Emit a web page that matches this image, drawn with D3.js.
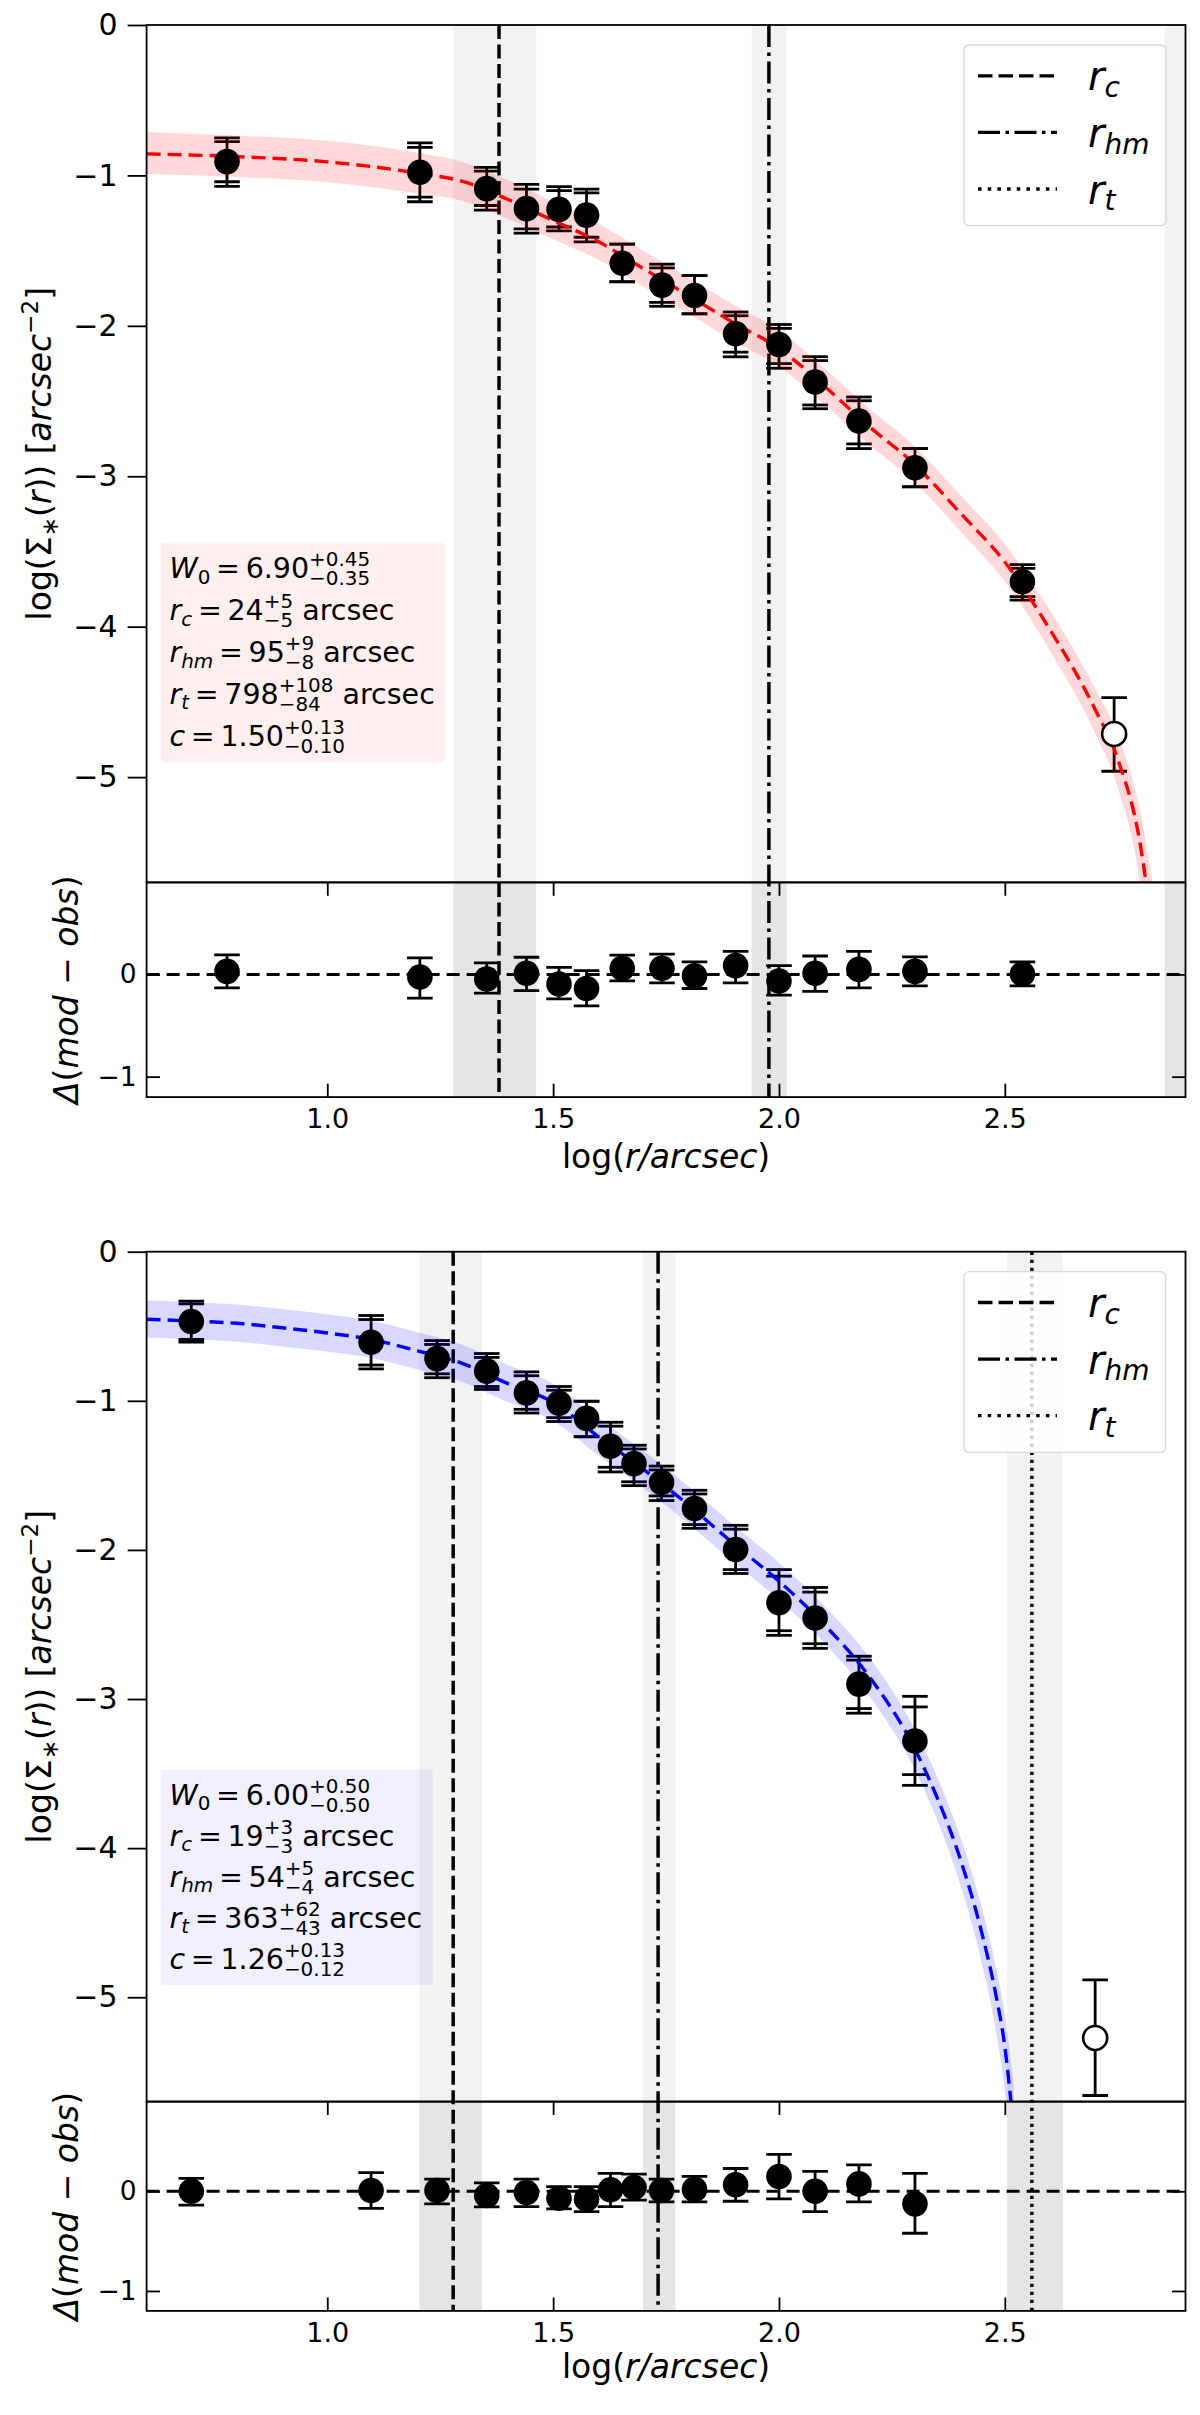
<!DOCTYPE html>
<html>
<head>
<meta charset="utf-8">
<script src="https://cdn.jsdelivr.net/npm/d3@7/dist/d3.min.js"></script>
<style>
  body { margin: 0; background: #fff; }
  svg text { font-family: "DejaVu Sans", sans-serif; white-space: pre; }
</style>
</head>
<body>
<svg id="chart" width="1200" height="2415"></svg>
<script>
// ---------- shared axes
const xDomain = [0.6, 2.9];
const xTicks = [1.0, 1.5, 2.0, 2.5];
const yMainDomain = [-5.7, 0];
const yMainTicks = [0, -1, -2, -3, -4, -5];
const yResDomain = [-1.2, 0.9];
const yResTicks = [0, -1];
const legendLabels = [["r", "c"], ["r", "hm"], ["r", "t"]];

// ---------- top cluster (red)
const obsXA = [0.778, 1.205, 1.353, 1.441, 1.513, 1.574, 1.653, 1.741, 1.813, 1.904, 2.000, 2.080, 2.177, 2.301, 2.539];
const obsYA = [-0.908, -0.979, -1.088, -1.221, -1.226, -1.264, -1.584, -1.729, -1.798, -2.053, -2.124, -2.373, -2.633, -2.943, -3.701];
const obsHiOutA = [-0.750, -0.783, -0.946, -1.060, -1.075, -1.091, -1.457, -1.590, -1.666, -1.908, -1.991, -2.205, -2.473, -2.816, -3.587];
const obsHiInA = [-0.775, -0.813, -0.971, -1.091, -1.101, -1.116, -1.457, -1.615, -1.666, -1.933, -2.017, -2.231, -2.498, -2.816, -3.612];
const obsLoInA = [-1.042, -1.144, -1.200, -1.355, -1.343, -1.411, -1.707, -1.844, -1.920, -2.175, -2.251, -2.526, -2.785, -3.070, -3.800];
const obsLoOutA = [-1.073, -1.175, -1.231, -1.383, -1.368, -1.442, -1.707, -1.870, -1.920, -2.206, -2.282, -2.551, -2.816, -3.070, -3.823];
const openA = [2.742, -4.713, -4.472, -4.961]; // x, y, hi, lo
const resYA = [0.030, -0.026, -0.045, 0.012, -0.094, -0.138, 0.060, 0.060, -0.014, 0.086, -0.064, 0.012, 0.049, 0.030, 0.004];
const resHiA = [0.191, 0.161, 0.113, 0.168, 0.068, 0.038, 0.188, 0.199, 0.123, 0.225, 0.086, 0.180, 0.225, 0.172, 0.123];
const resLoA = [-0.131, -0.232, -0.183, -0.158, -0.240, -0.307, -0.064, -0.082, -0.138, -0.082, -0.202, -0.165, -0.131, -0.113, -0.113];
const modelXA = [0.6, 0.8, 1.0, 1.2, 1.3, 1.4, 1.5, 1.6, 1.7, 1.8, 1.9, 2.0, 2.1, 2.2, 2.3, 2.4, 2.5, 2.6, 2.7, 2.75, 2.8, 2.83];
const modelYA = [-0.857, -0.875, -0.91, -0.985, -1.04, -1.16, -1.30, -1.44, -1.62, -1.80, -1.98, -2.15, -2.40, -2.67, -2.92, -3.24, -3.57, -4.02, -4.55, -4.88, -5.45, -6.1];
const modelHiA = [-0.711, -0.735, -0.77, -0.85, -0.91, -1.03, -1.175, -1.32, -1.50, -1.68, -1.86, -2.03, -2.28, -2.55, -2.80, -3.12, -3.45, -3.89, -4.41, -4.72, -5.23, -5.75];
const modelLoA = [-0.991, -1.01, -1.045, -1.12, -1.17, -1.29, -1.425, -1.56, -1.74, -1.92, -2.10, -2.27, -2.52, -2.79, -3.04, -3.36, -3.70, -4.16, -4.71, -5.07, -5.73, -6.6];
const rcA = [24, 19, 29];      // value, lower, upper (arcsec)
const rhmA = [95, 87, 104];
const rtA = [798, 714, 906];
const paramsA = [
  { sym: "W", sub: "0", subIt: false, val: "6.90", up: "+0.45", dn: "\u22120.35", unit: "" },
  { sym: "r", sub: "c", subIt: true, val: "24", up: "+5", dn: "\u22125", unit: "arcsec" },
  { sym: "r", sub: "hm", subIt: true, val: "95", up: "+9", dn: "\u22128", unit: "arcsec" },
  { sym: "r", sub: "t", subIt: true, val: "798", up: "+108", dn: "\u221284", unit: "arcsec" },
  { sym: "c", sub: "", subIt: true, val: "1.50", up: "+0.13", dn: "\u22120.10", unit: "" }
];

// ---------- bottom cluster (blue)
const obsXB = [0.699, 1.097, 1.243, 1.353, 1.441, 1.513, 1.574, 1.627, 1.679, 1.740, 1.813, 1.904, 2.000, 2.080, 2.177, 2.301];
const obsYB = [-0.468, -0.607, -0.717, -0.801, -0.947, -1.016, -1.118, -1.305, -1.421, -1.548, -1.722, -1.997, -2.354, -2.457, -2.900, -3.282];
const obsHiOutB = [-0.332, -0.428, -0.596, -0.683, -0.806, -0.904, -1.003, -1.144, -1.298, -1.438, -1.600, -1.835, -2.132, -2.252, -2.713, -2.982];
const obsHiInB = [-0.350, -0.455, -0.622, -0.709, -0.832, -0.929, -1.003, -1.170, -1.323, -1.464, -1.625, -1.861, -2.176, -2.283, -2.739, -3.053];
const obsLoInB = [-0.589, -0.760, -0.819, -0.904, -1.057, -1.113, -1.241, -1.446, -1.543, -1.638, -1.830, -2.132, -2.542, -2.629, -3.064, -3.507];
const obsLoOutB = [-0.607, -0.786, -0.845, -0.924, -1.082, -1.139, -1.241, -1.477, -1.569, -1.669, -1.855, -2.158, -2.573, -2.660, -3.095, -3.579];
const openB = [2.700, -5.273, -4.884, -5.659];
const resYB = [0.0, 0.008, 0.008, -0.042, -0.012, -0.069, -0.077, 0.015, 0.038, 0.008, 0.019, 0.065, 0.149, 0.0, 0.074, -0.126];
const resHiB = [0.13, 0.187, 0.122, 0.084, 0.122, 0.046, 0.046, 0.18, 0.172, 0.122, 0.149, 0.229, 0.371, 0.199, 0.265, 0.18];
const resLoB = [-0.138, -0.172, -0.126, -0.157, -0.153, -0.176, -0.203, -0.153, -0.088, -0.107, -0.107, -0.1, -0.077, -0.203, -0.107, -0.421];
const modelXB = [0.6, 0.7, 0.8, 0.9, 1.0, 1.1, 1.2, 1.3, 1.4, 1.5, 1.6, 1.7, 1.8, 1.9, 2.0, 2.1, 2.2, 2.3, 2.35, 2.4, 2.45, 2.48, 2.5, 2.52];
const modelYB = [-0.453, -0.465, -0.48, -0.51, -0.545, -0.59, -0.665, -0.75, -0.885, -1.01, -1.24, -1.46, -1.70, -1.96, -2.21, -2.50, -2.85, -3.33, -3.66, -4.06, -4.58, -4.98, -5.33, -5.9];
const modelHiB = [-0.327, -0.339, -0.354, -0.385, -0.42, -0.465, -0.54, -0.625, -0.76, -0.885, -1.115, -1.335, -1.575, -1.835, -2.085, -2.375, -2.72, -3.20, -3.52, -3.91, -4.41, -4.79, -5.11, -5.6];
const modelLoB = [-0.576, -0.588, -0.604, -0.635, -0.67, -0.715, -0.79, -0.875, -1.01, -1.135, -1.365, -1.585, -1.825, -2.085, -2.335, -2.625, -2.98, -3.47, -3.81, -4.23, -4.78, -5.22, -5.63, -6.4];
const rcB = [19, 16, 22];
const rhmB = [54, 50, 59];
const rtB = [363, 320, 425];
const paramsB = [
  { sym: "W", sub: "0", subIt: false, val: "6.00", up: "+0.50", dn: "\u22120.50", unit: "" },
  { sym: "r", sub: "c", subIt: true, val: "19", up: "+3", dn: "\u22123", unit: "arcsec" },
  { sym: "r", sub: "hm", subIt: true, val: "54", up: "+5", dn: "\u22124", unit: "arcsec" },
  { sym: "r", sub: "t", subIt: true, val: "363", up: "+62", dn: "\u221243", unit: "arcsec" },
  { sym: "c", sub: "", subIt: true, val: "1.26", up: "+0.13", dn: "\u22120.12", unit: "" }
];

const vDash = ["14,5.5", "22,5.5,3.5,5.5", "3.4,4.6"];
const legendDash = ["14.5,6", "22,5.5,3.5,5.5", "3.5,6.2"];

const svg = d3.select("#chart");
const defs = svg.append("defs");

// sequential text with italics, sub/superscripts; returns width
function rich(g, x, y, segs, size) {
  let cx = x;
  segs.filter((s) => s).forEach((s) => {
    if (s.up !== undefined) {
      const fs = size * 0.7;
      const a = g.append("text").attr("x", cx).attr("y", y - size * 0.41).attr("font-size", fs).text(s.up);
      const b = g.append("text").attr("x", cx).attr("y", y + size * 0.26).attr("font-size", fs).text(s.dn);
      cx += Math.max(a.node().getComputedTextLength(), b.node().getComputedTextLength());
    } else {
      if (!s.t) return;
      const t = g
        .append("text")
        .attr("x", cx)
        .attr("y", y + (s.dy || 0) * size)
        .attr("font-size", size * (s.sc || 1))
        .attr("font-style", s.it ? "italic" : "normal")
        .text(s.t);
      cx += t.node().getComputedTextLength();
    }
  });
  return cx - x;
}

function centered(parent, cx, cy, rot, segs, size) {
  const outer = parent.append("g").attr("transform", `translate(${cx},${cy}) rotate(${rot})`);
  const inner = outer.append("g");
  const w = rich(inner, 0, 0, segs, size);
  inner.attr("transform", `translate(${-w / 2},0)`);
}

function errorLines(gg, xs, capSets, xS, yS) {
  xs.forEach((xv, i) => {
    const vals = capSets.map((c) => c[i]);
    gg.append("line")
      .attr("x1", xS(xv)).attr("x2", xS(xv))
      .attr("y1", yS(d3.max(vals))).attr("y2", yS(d3.min(vals)))
      .attr("stroke", "#000").attr("stroke-width", 2.8);
    vals.forEach((v) => {
      gg.append("line")
        .attr("x1", xS(xv) - 12.8).attr("x2", xS(xv) + 12.8)
        .attr("y1", yS(v)).attr("y2", yS(v))
        .attr("stroke", "#000").attr("stroke-width", 2.8);
    });
  });
}

function markers(gg, xs, ys, xS, yS, open) {
  gg.selectAll(null).data(xs).join("circle")
    .attr("cx", (xv) => xS(xv)).attr("cy", (xv, i) => yS(ys[i]))
    .attr("r", open ? 12 : 12.8)
    .attr("fill", open ? "#fff" : "#000")
    .attr("stroke", "#000").attr("stroke-width", open ? 2.6 : 0);
}

function drawFigure(d, lay) {
  const x0 = 146.6, x1 = 1185.5;
  const x = d3.scaleLinear().domain(xDomain).range([x0, x1]);
  const yM = d3.scaleLinear().domain(yMainDomain).range([lay.mainBottom, lay.top]);
  const yR = d3.scaleLinear().domain(yResDomain).range([lay.resBottom, lay.mainBottom]);
  const g = svg.append("g");

  defs.append("clipPath").attr("id", lay.id + "-main").append("rect")
    .attr("x", x0).attr("y", lay.top).attr("width", x1 - x0).attr("height", lay.mainBottom - lay.top);
  defs.append("clipPath").attr("id", lay.id + "-res").append("rect")
    .attr("x", x0).attr("y", lay.mainBottom).attr("width", x1 - x0).attr("height", lay.resBottom - lay.mainBottom);

  const gMain = g.append("g").attr("clip-path", `url(#${lay.id}-main)`);
  const gRes = g.append("g").attr("clip-path", `url(#${lay.id}-res)`);
  const radii = [d.rc, d.rhm, d.rt];
  const lx = (v) => x(Math.log10(v));

  // uncertainty bands of the radii
  gMain.selectAll("rect.band").data(radii).join("rect").attr("class", "band")
    .attr("x", (r) => lx(r[1])).attr("width", (r) => lx(r[2]) - lx(r[1]))
    .attr("y", lay.top).attr("height", lay.mainBottom - lay.top).attr("fill", "#f2f2f2");
  gRes.selectAll("rect.band").data(radii).join("rect").attr("class", "band")
    .attr("x", (r) => lx(r[1])).attr("width", (r) => lx(r[2]) - lx(r[1]))
    .attr("y", lay.mainBottom).attr("height", lay.resBottom - lay.mainBottom).attr("fill", "#e5e5e5");

  // zero line of residuals
  gRes.append("line").attr("x1", x0).attr("x2", x1).attr("y1", yR(0)).attr("y2", yR(0))
    .attr("stroke", "#000").attr("stroke-width", 3).attr("stroke-dasharray", "13,7");

  // radius lines (only those inside the x range)
  [gMain, gRes].forEach((gg) => {
    gg.selectAll("line.vl").data(radii).join("line").attr("class", "vl")
      .attr("display", (r) => (Math.log10(r[0]) < xDomain[1] ? null : "none"))
      .attr("x1", (r) => lx(r[0])).attr("x2", (r) => lx(r[0]))
      .attr("y1", lay.top).attr("y2", lay.resBottom)
      .attr("stroke", "#000").attr("stroke-width", 3.5)
      .attr("stroke-dasharray", (r, i) => vDash[i]);
  });

  // observed profile: bars, then model band and curve, then markers
  errorLines(gMain, d.obsX, [d.obsHiOut, d.obsHiIn, d.obsLoIn, d.obsLoOut], x, yM);
  errorLines(gMain, [d.open[0]], [[d.open[2]], [d.open[3]]], x, yM);

  const idx = d3.range(d.modelX.length);
  gMain.append("path").datum(idx)
    .attr("d", d3.area().x((i) => x(d.modelX[i])).y0((i) => yM(d.modelLo[i])).y1((i) => yM(d.modelHi[i])).curve(d3.curveMonotoneX))
    .attr("fill", d.color).attr("fill-opacity", 0.15);
  gMain.append("path").datum(idx)
    .attr("d", d3.line().x((i) => x(d.modelX[i])).y((i) => yM(d.modelY[i])).curve(d3.curveMonotoneX))
    .attr("fill", "none").attr("stroke", d.color).attr("stroke-width", 3.4).attr("stroke-dasharray", "14,7");

  markers(gMain, d.obsX, d.obsY, x, yM, false);
  markers(gMain, [d.open[0]], [d.open[1]], x, yM, true);

  // residuals
  errorLines(gRes, d.obsX, [d.resHi, d.resLo], x, yR);
  markers(gRes, d.obsX, d.resY, x, yR, false);

  // parameter box
  const tb = g.append("g");
  const box = tb.append("rect").attr("x", 160.7).attr("y", lay.top + 517.8)
    .attr("height", lay.boxH).attr("rx", 4).attr("fill", d.color).attr("fill-opacity", 0.06);
  let maxW = 0;
  d.params.forEach((p, i) => {
    const w = rich(tb, 169.5, lay.top + 553 + i * lay.lineGap, [
      { t: p.sym, it: true },
      { t: p.sub, it: p.subIt, sc: 0.7, dy: 0.2 },
      { t: "\u2009=\u2009" + p.val },
      { up: p.up, dn: p.dn },
      p.unit ? { t: " " + p.unit } : null
    ], 28.5);
    maxW = Math.max(maxW, w);
  });
  box.attr("width", maxW + 19.5);

  // legend
  const lg = g.append("g");
  lg.append("rect").attr("x", 964).attr("y", lay.top + 20).attr("width", 201.7).attr("height", 180.7)
    .attr("rx", 5).attr("fill", "#fff").attr("fill-opacity", 0.8).attr("stroke", "#d8d8d8").attr("stroke-width", 1.3);
  legendLabels.forEach((lab, i) => {
    const yy = lay.top + 50.8 + i * 56.6;
    lg.append("line").attr("x1", 978).attr("x2", 1057).attr("y1", yy).attr("y2", yy)
      .attr("stroke", "#000").attr("stroke-width", 3.3).attr("stroke-dasharray", legendDash[i]);
    rich(lg, 1088, yy + 14.5, [{ t: lab[0], it: true }, { t: lab[1], it: true, sc: 0.7, dy: 0.17 }], 40);
  });

  // axes
  const styleAxis = (ax, fs) => {
    ax.select(".domain").remove();
    ax.selectAll("line").attr("stroke", "#000").attr("stroke-width", 1.8);
    ax.selectAll("text").attr("font-size", fs).attr("font-family", "DejaVu Sans").attr("fill", "#000");
  };
  styleAxis(g.append("g").attr("transform", `translate(${x0},0)`)
    .call(d3.axisLeft(yM).tickValues(yMainTicks).tickFormat(d3.format("d")).tickSize(19).tickPadding(10)), 30);
  styleAxis(g.append("g").attr("transform", `translate(${x0},0)`)
    .call(d3.axisLeft(yR).tickValues(yResTicks).tickFormat(d3.format("d")).tickSize(-13.4).tickPadding(10)), 26.5);
  styleAxis(g.append("g").attr("transform", `translate(${x1},0)`)
    .call(d3.axisRight(yR).tickValues(yResTicks).tickFormat("").tickSize(-13.4)), 26.5);
  styleAxis(g.append("g").attr("transform", `translate(0,${lay.resBottom})`)
    .call(d3.axisBottom(x).tickValues(xTicks).tickFormat(d3.format(".1f")).tickSize(-13.4).tickPadding(12)), 27);
  styleAxis(g.append("g").attr("transform", `translate(0,${lay.mainBottom})`)
    .call(d3.axisTop(x).tickValues(xTicks).tickFormat("").tickSize(-13.4)), 27);

  // frames
  g.append("rect").attr("x", x0).attr("y", lay.top).attr("width", x1 - x0).attr("height", lay.mainBottom - lay.top)
    .attr("fill", "none").attr("stroke", "#000").attr("stroke-width", 1.8);
  g.append("rect").attr("x", x0).attr("y", lay.mainBottom).attr("width", x1 - x0).attr("height", lay.resBottom - lay.mainBottom)
    .attr("fill", "none").attr("stroke", "#000").attr("stroke-width", 1.8);

  // axis titles
  centered(g, 51, (lay.top + lay.mainBottom) / 2, -90, [
    { t: "log(\u03a3" }, { t: "\u2217", sc: 0.7, dy: 0.22 }, { t: "(" }, { t: "r", it: true }, { t: ")) [" },
    { t: "arcsec", it: true }, { t: "\u22122", sc: 0.7, dy: -0.4 }, { t: "]" }
  ], 33);
  centered(g, 78, (lay.mainBottom + lay.resBottom) / 2, -90, [
    { t: "\u0394", it: true }, { t: "(" }, { t: "mod", it: true }, { t: " \u2212 " }, { t: "obs", it: true }, { t: ")" }
  ], 33);
  centered(g, (x0 + x1) / 2, lay.xLabelY, 0, [{ t: "log(" }, { t: "r/arcsec", it: true }, { t: ")" }], 33);
}

drawFigure(
  {
    color: "#ff0000", obsX: obsXA, obsY: obsYA, obsHiOut: obsHiOutA, obsHiIn: obsHiInA, obsLoIn: obsLoInA, obsLoOut: obsLoOutA,
    open: openA, resY: resYA, resHi: resHiA, resLo: resLoA,
    modelX: modelXA, modelY: modelYA, modelHi: modelHiA, modelLo: modelLoA,
    rc: rcA, rhm: rhmA, rt: rtA, params: paramsA
  },
  { id: "figA", top: 25, mainBottom: 882.4, resBottom: 1097.1, boxH: 219.9, lineGap: 41.9, xLabelY: 1168 }
);

drawFigure(
  {
    color: "#0000ff", obsX: obsXB, obsY: obsYB, obsHiOut: obsHiOutB, obsHiIn: obsHiInB, obsLoIn: obsLoInB, obsLoOut: obsLoOutB,
    open: openB, resY: resYB, resHi: resHiB, resLo: resLoB,
    modelX: modelXB, modelY: modelYB, modelHi: modelHiB, modelLo: modelLoB,
    rc: rcB, rhm: rhmB, rt: rtB, params: paramsB
  },
  { id: "figB", top: 1251.7, mainBottom: 2101.6, resBottom: 2310.9, boxH: 215.4, lineGap: 41, xLabelY: 2378 }
);
</script>
</body>
</html>
